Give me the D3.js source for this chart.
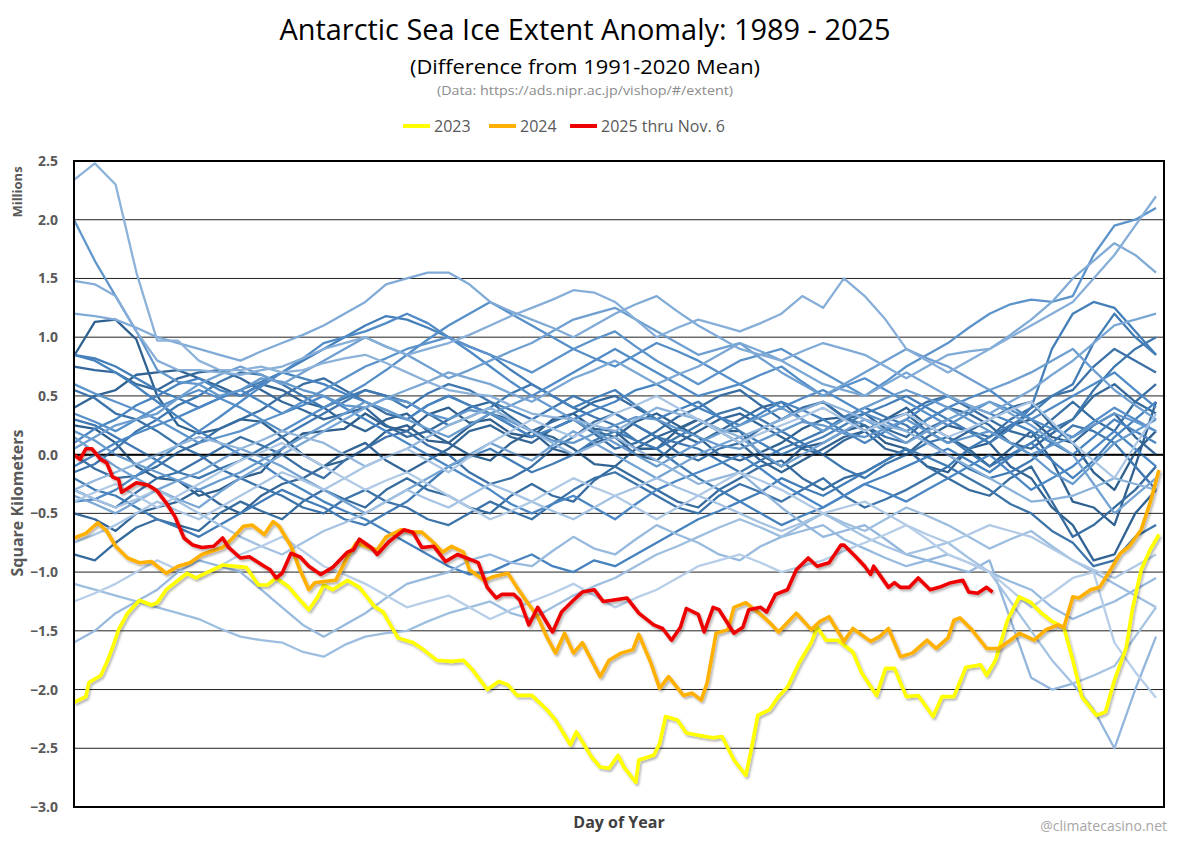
<!DOCTYPE html>
<html>
<head>
<meta charset="utf-8">
<script src="https://cdnjs.cloudflare.com/ajax/libs/d3/7.8.5/d3.min.js"></script>
<style>
  body { margin: 0; background: #fff; }
  text { font-family: "Open Sans", "Liberation Sans", sans-serif; }
</style>
</head>
<body>
<div id="chart"></div>
<script>
// weekly day-of-year grid for the 1989-2022 background years (1, 8, 15 ... 365)
var gridDays = d3.range(1, 366, 7);

// background years, anomaly in millions km2 read at gridDays
var pastYears = {
  1989: [0.25,0.22,0.1,-0.1,-0.2,-0.22,-0.35,-0.3,-0.2,-0.15,0.05,0.18,0.2,0.22,0.35,0.24,0.2,0.34,0.4,0.27,0.3,0.18,0.15,0.3,0.35,0.22,0.2,0.05,0.05,0.21,0.3,0.2,0.2,0.0,-0.1,0.06,0.1,0.2,0.25,0.1,0.05,-0.1,-0.15,0.05,0.1,0.25,0.3,0.15,0.1,-0.15,-0.3,0.02,0.2],
  1990: [0.84,1.13,1.15,0.98,0.5,0.25,0.18,0.22,0.3,0.28,0.15,0.0,-0.1,-0.05,0.05,0.2,0.25,0.12,0.1,0.24,0.35,0.3,0.2,0.05,0.0,0.1,0.15,0.28,0.35,0.25,0.15,0.0,-0.05,0.02,0.1,0.22,0.3,0.32,0.2,0.3,0.4,0.25,0.15,0.05,-0.1,0.05,0.2,-0.05,-0.4,-0.45,-0.6,-0.1,0.45],
  1991: [0.4,0.5,0.55,0.68,0.7,0.72,0.65,0.58,0.5,0.6,0.55,0.45,0.4,0.28,0.2,0.3,0.35,0.2,0.1,0.0,-0.05,0.1,0.2,0.15,0.05,-0.08,-0.1,0.05,0.15,0.22,0.3,0.2,0.1,-0.05,-0.15,-0.05,0.05,0.15,0.2,0.05,0.0,0.15,0.25,0.2,0.1,-0.1,-0.2,-0.45,-0.6,-0.9,-0.85,-0.5,-0.3],
  1992: [-0.5,-0.55,-0.65,-0.5,-0.45,-0.4,-0.3,-0.42,-0.5,-0.35,-0.25,-0.2,-0.1,0.02,0.1,-0.05,-0.15,-0.05,0.05,0.2,0.25,0.15,0.1,0.22,0.3,0.2,0.15,0.0,-0.05,0.1,0.2,0.3,0.35,0.25,0.15,0.05,0.0,0.12,0.2,0.3,0.35,0.2,0.1,0.2,0.3,0.4,0.45,0.25,0.1,0.25,0.35,0.15,0.0],
  1993: [0.75,0.72,0.7,0.6,0.55,0.65,0.7,0.72,0.65,0.55,0.45,0.38,0.3,0.35,0.4,0.25,0.15,0.2,0.3,0.4,0.45,0.32,0.2,0.28,0.35,0.45,0.5,0.4,0.3,0.18,0.1,0.2,0.3,0.4,0.45,0.3,0.2,0.3,0.35,0.22,0.15,0.3,0.4,0.35,0.25,0.1,0.05,0.18,0.3,0.5,0.6,0.45,0.35],
  1994: [-0.85,-0.9,-0.75,-0.62,-0.55,-0.6,-0.65,-0.5,-0.4,-0.48,-0.55,-0.4,-0.3,-0.38,-0.45,-0.3,-0.2,-0.3,-0.35,-0.45,-0.5,-0.35,-0.25,-0.35,-0.4,-0.22,-0.1,-0.2,-0.3,-0.4,-0.45,-0.3,-0.2,-0.1,-0.05,-0.2,-0.3,-0.2,-0.15,-0.05,0.05,-0.1,-0.2,-0.3,-0.35,-0.2,-0.1,-0.4,-0.7,-0.6,-0.45,-0.3,-0.1],
  1995: [0.0,-0.12,-0.2,-0.18,-0.1,0.02,0.1,0.22,0.3,0.38,0.5,0.6,0.65,0.55,0.45,0.35,0.3,0.42,0.5,0.42,0.35,0.25,0.15,0.22,0.3,0.18,0.05,0.1,0.2,0.32,0.4,0.5,0.55,0.42,0.3,0.38,0.45,0.32,0.2,0.28,0.35,0.45,0.5,0.4,0.3,0.2,0.15,0.3,0.45,0.3,0.2,0.45,0.6],
  1996: [-0.3,-0.38,-0.45,-0.32,-0.2,-0.15,-0.05,0.05,0.15,0.08,0.0,-0.12,-0.2,-0.05,0.05,0.15,0.2,0.08,0.0,-0.15,-0.25,-0.2,-0.1,0.05,0.15,0.28,0.35,0.25,0.15,0.02,-0.05,0.05,0.1,0.22,0.3,0.4,0.45,0.32,0.25,0.15,0.1,0.22,0.3,0.2,0.15,0.3,0.4,0.5,0.55,0.75,0.9,0.8,0.7],
  1997: [0.55,0.48,0.35,0.3,0.2,0.08,0.0,-0.12,-0.2,-0.28,-0.35,-0.45,-0.5,-0.38,-0.3,-0.4,-0.45,-0.55,-0.6,-0.5,-0.4,-0.48,-0.55,-0.42,-0.3,-0.2,-0.15,-0.25,-0.35,-0.45,-0.5,-0.35,-0.25,-0.32,-0.4,-0.3,-0.2,-0.35,-0.45,-0.38,-0.3,-0.2,-0.1,-0.2,-0.3,-0.42,-0.5,-0.65,-0.75,-0.95,-0.9,-0.7,-0.6],
  1998: [-0.15,-0.08,0.05,0.2,0.3,0.42,0.5,0.62,0.7,0.68,0.6,0.5,0.4,0.48,0.55,0.5,0.45,0.35,0.25,0.32,0.4,0.52,0.6,0.5,0.4,0.32,0.25,0.12,0.05,0.15,0.25,0.35,0.4,0.3,0.2,0.1,0.0,-0.12,-0.2,-0.08,0.0,0.1,0.15,0.02,-0.1,0.0,0.1,0.22,0.3,0.55,0.75,0.9,1.0],
  1999: [0.3,0.25,0.15,0.05,-0.05,-0.15,-0.2,-0.12,-0.05,0.05,0.15,0.25,0.35,0.45,0.55,0.5,0.4,0.52,0.6,0.55,0.45,0.38,0.3,0.4,0.5,0.42,0.35,0.25,0.15,0.1,0.05,-0.05,-0.15,-0.05,0.05,0.12,0.2,0.32,0.4,0.32,0.25,0.12,0.0,-0.12,-0.2,-0.15,-0.05,0.1,0.25,0.2,0.1,-0.1,-0.3],
  2000: [-0.2,-0.3,-0.35,-0.45,-0.55,-0.62,-0.7,-0.6,-0.5,-0.4,-0.3,-0.38,-0.45,-0.55,-0.6,-0.5,-0.4,-0.25,-0.1,-0.02,0.05,-0.05,-0.15,-0.08,0.0,0.12,0.2,0.12,0.05,-0.08,-0.2,-0.3,-0.4,-0.32,-0.2,-0.28,-0.35,-0.25,-0.15,-0.05,0.05,-0.02,-0.1,0.05,0.15,0.25,0.35,0.5,0.6,0.95,1.2,1.0,0.85],
  2001: [0.85,0.82,0.75,0.65,0.55,0.48,0.4,0.48,0.55,0.62,0.7,0.8,0.9,1.0,1.1,1.18,1.15,1.08,1.0,0.92,0.85,0.72,0.6,0.5,0.4,0.48,0.55,0.42,0.3,0.38,0.45,0.32,0.2,0.1,0.0,0.08,0.15,0.25,0.35,0.42,0.5,0.4,0.3,0.2,0.1,0.22,0.4,0.9,1.2,1.3,1.25,1.05,0.85],
  2002: [0.85,0.8,0.7,0.58,0.45,0.32,0.2,0.1,0.0,-0.08,-0.2,-0.3,-0.4,-0.48,-0.55,-0.65,-0.75,-0.85,-0.95,-1.02,-1.0,-0.92,-0.85,-0.95,-1.0,-0.9,-0.95,-0.85,-0.75,-0.65,-0.55,-0.48,-0.4,-0.5,-0.6,-0.52,-0.45,-0.35,-0.25,-0.18,-0.1,-0.02,0.05,-0.05,-0.15,-0.02,0.1,-0.05,-0.2,-0.05,0.15,0.3,0.45],
  2003: [0.1,0.22,0.3,0.42,0.5,0.6,0.65,0.55,0.5,0.6,0.7,0.65,0.6,0.52,0.45,0.38,0.3,0.42,0.5,0.42,0.35,0.25,0.15,0.22,0.3,0.38,0.45,0.55,0.6,0.5,0.4,0.32,0.25,0.35,0.45,0.38,0.3,0.2,0.1,0.2,0.3,0.42,0.5,0.42,0.35,0.28,0.2,0.1,0.0,0.15,0.3,0.2,0.1],
  2004: [-0.1,0.0,0.1,0.18,0.25,0.32,0.4,0.48,0.55,0.45,0.35,0.42,0.5,0.4,0.3,0.2,0.1,0.0,-0.1,-0.2,-0.3,-0.42,-0.5,-0.42,-0.35,-0.45,-0.55,-0.42,-0.3,-0.22,-0.15,-0.08,0.0,-0.12,-0.25,-0.35,-0.45,-0.35,-0.25,-0.32,-0.4,-0.3,-0.2,-0.1,0.0,-0.15,-0.3,-0.2,-0.1,0.05,0.2,0.05,-0.1],
  2005: [-0.4,-0.38,-0.3,-0.18,-0.05,0.08,0.2,0.32,0.45,0.58,0.7,0.82,0.95,1.0,1.05,1.12,1.2,1.12,1.0,0.88,0.75,0.62,0.5,0.6,0.7,0.8,0.9,0.8,0.7,0.6,0.5,0.55,0.6,0.5,0.4,0.48,0.55,0.45,0.35,0.28,0.2,0.3,0.4,0.48,0.55,0.42,0.3,0.4,0.5,0.6,0.7,0.55,0.4],
  2006: [0.35,0.28,0.2,0.3,0.4,0.48,0.55,0.48,0.4,0.3,0.2,0.3,0.4,0.5,0.6,0.72,0.85,0.98,1.1,1.2,1.3,1.2,1.1,1.0,0.9,0.82,0.75,0.85,0.95,0.88,0.8,0.7,0.6,0.68,0.75,0.62,0.5,0.58,0.65,0.55,0.45,0.35,0.25,0.35,0.45,0.38,0.3,0.22,0.15,0.28,0.4,0.3,0.2],
  2007: [0.6,0.52,0.45,0.38,0.3,0.2,0.1,0.15,0.2,0.28,0.35,0.45,0.55,0.65,0.75,0.82,0.9,0.95,1.0,0.92,0.85,0.78,0.7,0.8,0.9,0.98,1.05,0.92,0.8,0.7,0.6,0.7,0.8,0.85,0.9,0.8,0.7,0.6,0.5,0.62,0.75,0.85,0.95,1.08,1.2,1.28,1.32,1.3,1.35,1.7,1.95,2.0,2.1],
  2008: [2.0,1.65,1.35,1.05,0.72,0.62,0.6,0.5,0.55,0.65,0.62,0.55,0.5,0.42,0.4,0.48,0.45,0.35,0.3,0.38,0.35,0.28,0.2,0.12,0.1,0.18,0.25,0.32,0.3,0.22,0.15,0.08,0.05,0.12,0.2,0.28,0.25,0.18,0.15,0.22,0.3,0.2,0.1,0.15,0.2,0.1,0.0,0.08,0.15,0.25,0.35,0.28,0.2],
  2009: [0.2,0.12,0.0,-0.08,-0.15,-0.22,-0.3,-0.22,-0.15,-0.05,0.05,0.15,0.25,0.35,0.45,0.38,0.3,0.22,0.15,0.25,0.35,0.42,0.5,0.4,0.3,0.2,0.1,0.0,-0.1,0.0,0.1,0.18,0.25,0.32,0.4,0.3,0.2,0.3,0.4,0.48,0.55,0.48,0.4,0.3,0.2,0.1,0.0,-0.15,-0.25,-0.08,0.1,0.2,0.3],
  2010: [0.05,0.15,0.25,0.3,0.35,0.48,0.6,0.68,0.75,0.68,0.6,0.7,0.8,0.9,1.0,0.92,0.85,0.75,0.65,0.72,0.8,0.88,0.95,1.05,1.15,1.2,1.25,1.15,1.05,0.95,0.85,0.9,0.95,0.82,0.7,0.6,0.5,0.6,0.7,0.8,0.9,0.82,0.75,0.65,0.55,0.62,0.7,0.8,0.9,0.72,0.55,0.42,0.3],
  2011: [0.15,0.02,-0.1,-0.2,-0.3,-0.22,-0.15,-0.05,0.05,-0.02,-0.1,-0.2,-0.3,-0.4,-0.5,-0.4,-0.3,-0.2,-0.1,0.0,0.1,0.02,-0.05,0.08,0.2,0.1,0.0,-0.1,-0.2,-0.1,0.0,0.08,0.15,0.02,-0.1,0.0,0.1,0.2,0.3,0.2,0.1,0.2,0.3,0.38,0.45,0.35,0.25,0.12,0.0,-0.25,-0.5,-0.35,-0.2],
  2012: [-0.35,-0.42,-0.5,-0.4,-0.3,-0.38,-0.45,-0.32,-0.2,-0.1,0.0,0.1,0.2,0.3,0.4,0.48,0.55,0.62,0.7,0.65,0.6,0.52,0.45,0.55,0.65,0.72,0.8,0.7,0.6,0.68,0.75,0.85,0.95,0.88,0.8,0.7,0.6,0.55,0.5,0.6,0.7,0.6,0.5,0.42,0.35,0.45,0.55,0.68,0.8,0.95,1.1,1.15,1.2],
  2013: [1.2,1.18,1.15,1.08,1.0,0.95,0.9,0.85,0.8,0.88,0.95,1.02,1.1,1.2,1.3,1.45,1.5,1.55,1.55,1.45,1.3,1.22,1.15,1.08,1.0,1.1,1.2,1.28,1.35,1.22,1.1,1.0,0.9,0.85,0.8,0.88,0.95,0.9,0.85,0.75,0.65,0.75,0.85,0.88,0.9,1.02,1.15,1.3,1.5,1.65,1.8,1.7,1.55],
  2014: [1.48,1.45,1.35,1.05,0.8,0.72,0.72,0.7,0.68,0.72,0.75,0.82,0.9,0.95,1.0,0.92,0.85,0.9,0.95,1.02,1.1,1.18,1.25,1.32,1.4,1.38,1.3,1.15,1.0,1.08,1.15,1.1,1.05,1.12,1.2,1.35,1.25,1.5,1.35,1.15,0.9,0.8,0.7,0.8,0.9,1.0,1.1,1.2,1.3,1.5,1.7,1.95,2.2],
  2015: [2.34,2.48,2.3,1.55,0.97,0.97,0.8,0.72,0.72,0.75,0.7,0.72,0.78,0.82,0.85,0.78,0.7,0.62,0.55,0.52,0.5,0.42,0.35,0.32,0.3,0.25,0.2,0.3,0.4,0.35,0.3,0.22,0.15,0.22,0.3,0.38,0.45,0.38,0.3,0.25,0.2,0.1,0.0,-0.1,-0.2,-0.3,-0.4,-0.38,-0.35,-0.28,-0.2,-0.25,-0.3],
  2016: [-0.3,-0.22,-0.15,-0.08,0.0,0.08,0.15,0.1,0.05,0.12,0.2,0.15,0.1,0.0,-0.1,-0.02,0.05,0.15,0.25,0.32,0.4,0.3,0.2,0.1,0.0,0.08,0.15,0.05,-0.05,-0.15,-0.25,-0.2,-0.15,-0.3,-0.45,-0.58,-0.7,-0.65,-0.6,-0.72,-0.85,-0.9,-0.95,-1.0,-0.9,-1.4,-1.9,-2.0,-1.95,-2.17,-2.5,-2.0,-1.55],
  2017: [-1.6,-1.5,-1.35,-1.25,-1.15,-1.0,-0.9,-0.95,-1.0,-1.15,-1.3,-1.45,-1.55,-1.45,-1.35,-1.22,-1.1,-1.05,-1.0,-0.9,-0.85,-0.92,-0.95,-0.82,-0.7,-0.8,-0.85,-0.72,-0.6,-0.68,-0.75,-0.85,-0.9,-0.78,-0.7,-0.65,-0.6,-0.72,-0.8,-0.88,-0.95,-0.9,-0.85,-0.92,-1.0,-1.08,-1.15,-1.3,-1.4,-1.32,-1.25,-1.15,-1.05],
  2018: [-1.1,-1.15,-1.2,-1.25,-1.3,-1.35,-1.4,-1.48,-1.55,-1.58,-1.6,-1.68,-1.72,-1.62,-1.55,-1.52,-1.5,-1.42,-1.35,-1.3,-1.25,-1.35,-1.4,-1.3,-1.2,-1.12,-1.05,-0.95,-0.85,-0.78,-0.7,-0.62,-0.55,-0.62,-0.7,-0.6,-0.5,-0.58,-0.65,-0.55,-0.45,-0.52,-0.6,-0.7,-0.8,-0.72,-0.65,-0.78,-0.9,-1.0,-1.1,-1.2,-1.3],
  2019: [-0.3,-0.38,-0.45,-0.38,-0.3,-0.4,-0.5,-0.6,-0.7,-0.78,-0.85,-0.75,-0.65,-0.58,-0.5,-0.4,-0.3,-0.38,-0.45,-0.35,-0.25,-0.32,-0.4,-0.48,-0.55,-0.45,-0.35,-0.28,-0.2,-0.28,-0.35,-0.42,-0.5,-0.58,-0.65,-0.58,-0.5,-0.6,-0.7,-0.78,-0.85,-0.8,-0.75,-0.88,-1.0,-1.25,-1.5,-1.75,-1.95,-1.88,-1.8,-1.55,-1.3],
  2020: [-0.75,-0.68,-0.6,-0.5,-0.4,-0.48,-0.55,-0.45,-0.35,-0.25,-0.15,-0.22,-0.3,-0.2,-0.1,-0.02,0.05,-0.05,-0.15,-0.02,0.1,0.2,0.3,0.22,0.15,0.25,0.35,0.42,0.5,0.4,0.3,0.2,0.1,0.18,0.25,0.32,0.4,0.3,0.2,0.28,0.35,0.25,0.15,0.22,0.3,0.38,0.45,0.28,0.1,-0.05,-0.2,0.08,0.35],
  2021: [-0.4,-0.32,-0.25,-0.35,-0.45,-0.35,-0.25,-0.15,-0.05,0.02,0.1,0.0,-0.1,-0.2,-0.3,-0.22,-0.15,-0.25,-0.35,-0.45,-0.55,-0.48,-0.4,-0.3,-0.2,-0.28,-0.35,-0.45,-0.55,-0.45,-0.35,-0.25,-0.15,-0.22,-0.3,-0.4,-0.5,-0.45,-0.4,-0.5,-0.6,-0.68,-0.75,-0.68,-0.6,-0.65,-0.7,-0.8,-0.9,-0.98,-1.05,-0.95,-0.85],
  2022: [-1.25,-1.18,-1.1,-1.0,-0.9,-0.98,-1.05,-0.95,-0.85,-0.78,-0.7,-0.82,-0.95,-1.02,-1.1,-1.2,-1.3,-1.25,-1.2,-1.3,-1.4,-1.32,-1.25,-1.18,-1.1,-1.2,-1.3,-1.22,-1.15,-1.05,-0.95,-0.9,-0.85,-0.92,-1.0,-0.95,-0.9,-0.82,-0.75,-0.68,-0.6,-0.72,-0.85,-0.92,-1.0,-1.15,-1.3,-1.18,-1.05,-1.0,-1.6,-1.85,-2.07]
};

// highlighted years: [day of year, anomaly]
var y2023 = [[1,-2.11],[5,-2.06],[6,-1.94],[10,-1.88],[12,-1.77],[14,-1.64],[16,-1.49],[19,-1.35],[23,-1.24],[27,-1.28],[29,-1.26],[32,-1.15],[39,-1.01],[42,-1.05],[46,-1.00],[51,-0.94],[59,-0.96],[63,-1.11],[66,-1.11],[69,-1.05],[73,-1.12],[76,-1.21],[80,-1.32],[83,-1.21],[85,-1.11],[88,-1.15],[93,-1.07],[97,-1.13],[102,-1.29],[105,-1.34],[107,-1.43],[110,-1.56],[115,-1.60],[118,-1.65],[123,-1.75],[128,-1.76],[132,-1.75],[135,-1.83],[140,-2.00],[144,-1.93],[147,-1.96],[150,-2.05],[155,-2.05],[160,-2.17],[163,-2.26],[168,-2.47],[170,-2.36],[175,-2.57],[178,-2.66],[181,-2.67],[184,-2.56],[186,-2.66],[190,-2.79],[191,-2.60],[196,-2.56],[198,-2.46],[200,-2.23],[204,-2.26],[207,-2.37],[211,-2.39],[216,-2.41],[219,-2.40],[223,-2.60],[227,-2.73],[229,-2.49],[231,-2.22],[235,-2.17],[238,-2.06],[241,-1.98],[245,-1.77],[249,-1.60],[251,-1.47],[254,-1.58],[258,-1.58],[263,-1.68],[266,-1.86],[271,-2.05],[274,-1.82],[277,-1.82],[281,-2.06],[285,-2.05],[290,-2.23],[293,-2.06],[297,-2.06],[301,-1.81],[306,-1.79],[308,-1.88],[311,-1.75],[315,-1.41],[319,-1.21],[323,-1.26],[326,-1.34],[330,-1.42],[334,-1.47],[337,-1.75],[340,-2.06],[345,-2.22],[348,-2.19],[351,-1.92],[355,-1.64],[357,-1.32],[360,-0.98],[363,-0.81],[366,-0.68]];

var y2024 = [[1,-0.71],[5,-0.67],[9,-0.58],[12,-0.65],[15,-0.78],[19,-0.88],[23,-0.92],[27,-0.91],[32,-1.01],[36,-0.95],[40,-0.92],[44,-0.85],[51,-0.79],[54,-0.72],[58,-0.61],[61,-0.60],[65,-0.68],[68,-0.57],[70,-0.61],[74,-0.78],[77,-0.98],[80,-1.15],[82,-1.09],[85,-1.08],[89,-1.07],[93,-0.87],[96,-0.75],[100,-0.79],[103,-0.81],[106,-0.70],[111,-0.64],[115,-0.66],[118,-0.66],[122,-0.75],[125,-0.83],[128,-0.78],[132,-0.83],[134,-0.98],[139,-1.07],[142,-1.04],[147,-1.01],[150,-1.13],[153,-1.24],[157,-1.38],[160,-1.55],[163,-1.69],[166,-1.52],[169,-1.69],[172,-1.60],[178,-1.89],[181,-1.75],[185,-1.69],[189,-1.66],[191,-1.53],[195,-1.77],[198,-1.99],[201,-1.89],[206,-2.05],[209,-2.03],[212,-2.09],[214,-1.94],[217,-1.52],[221,-1.49],[223,-1.30],[227,-1.26],[232,-1.36],[235,-1.43],[238,-1.51],[244,-1.35],[249,-1.49],[252,-1.42],[255,-1.38],[260,-1.59],[263,-1.48],[269,-1.59],[272,-1.55],[275,-1.48],[279,-1.72],[283,-1.69],[288,-1.58],[291,-1.65],[295,-1.56],[297,-1.41],[299,-1.39],[303,-1.49],[308,-1.65],[312,-1.65],[316,-1.58],[319,-1.52],[324,-1.58],[328,-1.49],[332,-1.45],[334,-1.47],[337,-1.21],[339,-1.22],[343,-1.15],[346,-1.13],[349,-1.01],[353,-0.84],[356,-0.78],[360,-0.64],[363,-0.41],[366,-0.13]];

var y2025 = [[1,0.0],[3,-0.04],[5,0.05],[7,0.05],[10,-0.04],[12,-0.07],[14,-0.19],[16,-0.21],[17,-0.32],[22,-0.24],[26,-0.26],[29,-0.31],[32,-0.41],[35,-0.53],[38,-0.71],[41,-0.77],[44,-0.79],[48,-0.78],[51,-0.71],[53,-0.79],[57,-0.88],[60,-0.87],[65,-0.95],[67,-0.98],[69,-1.05],[71,-1.01],[74,-0.84],[77,-0.87],[80,-0.95],[84,-1.02],[88,-0.96],[93,-0.83],[95,-0.81],[97,-0.72],[101,-0.79],[103,-0.85],[107,-0.74],[112,-0.64],[115,-0.66],[118,-0.79],[122,-0.78],[126,-0.91],[130,-0.85],[134,-0.89],[137,-0.92],[140,-1.13],[143,-1.22],[145,-1.19],[149,-1.19],[151,-1.24],[154,-1.45],[157,-1.30],[161,-1.47],[162,-1.51],[165,-1.34],[169,-1.24],[172,-1.17],[176,-1.15],[179,-1.25],[182,-1.24],[187,-1.22],[191,-1.35],[196,-1.45],[199,-1.48],[202,-1.58],[205,-1.47],[207,-1.31],[211,-1.36],[213,-1.51],[216,-1.30],[218,-1.32],[223,-1.52],[226,-1.47],[228,-1.32],[232,-1.30],[234,-1.34],[237,-1.19],[241,-1.15],[244,-0.98],[248,-0.88],[251,-0.95],[255,-0.92],[259,-0.77],[260,-0.77],[264,-0.87],[267,-0.95],[269,-1.02],[270,-0.95],[275,-1.13],[277,-1.09],[279,-1.13],[282,-1.13],[285,-1.05],[289,-1.15],[292,-1.13],[296,-1.09],[300,-1.07],[302,-1.17],[305,-1.18],[308,-1.13],[310,-1.17]];

var yTicks = [2.5, 2.0, 1.5, 1.0, 0.5, 0.0, -0.5, -1.0, -1.5, -2.0, -2.5, -3.0];

var highlights = [
  { name: "2023", color: "#ffff00", data: y2023 },
  { name: "2024", color: "#ffb000", data: y2024 },
  { name: "2025 thru Nov. 6", color: "#ee0000", data: y2025 }
];

var width = 1200, height = 847;
var plotLeft = 74, plotRight = 1164, plotTop = 161, plotBottom = 807;

var svg = d3.select('#chart').append('svg')
  .attr('width', width)
  .attr('height', height);

var defs = svg.append('defs');
var shadow = defs.append('filter').attr('id', 'shadow')
  .attr('x', '-5%').attr('y', '-5%').attr('width', '110%').attr('height', '120%');
shadow.append('feDropShadow')
  .attr('dx', 1.5).attr('dy', 2).attr('stdDeviation', 1.2)
  .attr('flood-color', '#000').attr('flood-opacity', 0.3);

var x = d3.scaleLinear().domain([1, 366]).range([plotLeft, 1159]);
var y = d3.scaleLinear().domain([-3, 2.5]).range([plotBottom, plotTop]);

// grid lines
svg.append('g').selectAll('line')
  .data(yTicks)
  .enter().append('line')
  .attr('x1', plotLeft).attr('x2', plotRight)
  .attr('y1', function (d) { return y(d); })
  .attr('y2', function (d) { return y(d); })
  .attr('stroke', function (d) { return d === 0 ? '#000' : '#222'; })
  .attr('stroke-width', function (d) { return d === 0 ? 2 : 1; });

// y axis labels
var yAxis = d3.axisLeft(y).tickValues(yTicks).tickSize(0).tickPadding(16)
  .tickFormat(d3.format('.1f'));
var yg = svg.append('g').attr('transform', 'translate(' + plotLeft + ',0)').call(yAxis);
yg.select('.domain').remove();
yg.selectAll('text')
  .attr('fill', '#595959')
  .style('font-size', '14px')
  .style('font-weight', 'bold')
  .style('font-family', '"Open Sans", sans-serif');

// background years
var years = Object.keys(pastYears).map(Number);
var blue = d3.scaleLinear().domain([1989, 2004, 2022])
  .range(['#2d5e8c', '#4a87c4', '#b6cee8']);

var line = d3.line()
  .x(function (d) { return x(d[0]); })
  .y(function (d) { return y(d[1]); });

svg.append('g').selectAll('path')
  .data(years)
  .enter().append('path')
  .attr('d', function (yr) {
    var pts = pastYears[yr].map(function (v, i) { return [gridDays[i], v]; })
      .filter(function (p) { return p[0] !== undefined; });
    return line(pts);
  })
  .attr('fill', 'none')
  .attr('stroke', function (yr) { return blue(yr); })
  .attr('stroke-width', 2.3)
  .attr('stroke-linejoin', 'round');

// zero line again on top, like the original
svg.append('line')
  .attr('x1', plotLeft).attr('x2', plotRight)
  .attr('y1', y(0)).attr('y2', y(0))
  .attr('stroke', '#000').attr('stroke-width', 1.5).attr('opacity', 0.6);

// highlighted years
svg.append('g').selectAll('path')
  .data(highlights)
  .enter().append('path')
  .attr('d', function (d) { return line(d.data); })
  .attr('fill', 'none')
  .attr('stroke', function (d) { return d.color; })
  .attr('stroke-width', 3.6)
  .attr('stroke-linejoin', 'round')
  .attr('filter', 'url(#shadow)');

// plot frame
svg.append('rect')
  .attr('x', plotLeft).attr('y', plotTop)
  .attr('width', plotRight - plotLeft).attr('height', plotBottom - plotTop)
  .attr('fill', 'none').attr('stroke', '#000').attr('stroke-width', 2);

// titles
svg.append('text')
  .attr('x', 585).attr('y', 40)
  .attr('text-anchor', 'middle')
  .attr('textLength', 611).attr('lengthAdjust', 'spacingAndGlyphs')
  .style('font-size', '29px').attr('fill', '#000')
  .text('Antarctic Sea Ice Extent Anomaly: 1989 - 2025');

svg.append('text')
  .attr('x', 585).attr('y', 74)
  .attr('text-anchor', 'middle')
  .attr('textLength', 350).attr('lengthAdjust', 'spacingAndGlyphs')
  .style('font-size', '20px').attr('fill', '#000')
  .text('(Difference from 1991-2020 Mean)');

svg.append('text')
  .attr('x', 585).attr('y', 95)
  .attr('text-anchor', 'middle')
  .attr('textLength', 296).attr('lengthAdjust', 'spacingAndGlyphs')
  .style('font-size', '13px').attr('fill', '#8c8c8c')
  .text('(Data: https://ads.nipr.ac.jp/vishop/#/extent)');

// legend
var legendX = [403, 489, 570];
var legend = svg.append('g').selectAll('g')
  .data(highlights)
  .enter().append('g')
  .attr('transform', function (d, i) { return 'translate(' + legendX[i] + ',126)'; });
legend.append('line')
  .attr('x1', 0).attr('x2', 27).attr('y1', 0).attr('y2', 0)
  .attr('stroke', function (d) { return d.color; })
  .attr('stroke-width', 4);
legend.append('text')
  .attr('x', 31).attr('y', 6)
  .style('font-size', '16px').attr('fill', '#595959')
  .text(function (d) { return d.name; });

// axis titles
svg.append('text')
  .attr('transform', 'translate(22,192) rotate(-90)')
  .attr('text-anchor', 'middle')
  .style('font-size', '13px').style('font-weight', 'bold').attr('fill', '#595959')
  .text('Millions');

svg.append('text')
  .attr('transform', 'translate(23,503) rotate(-90)')
  .attr('text-anchor', 'middle')
  .style('font-size', '16px').style('font-weight', 'bold').attr('fill', '#595959')
  .text('Square Kilometers');

svg.append('text')
  .attr('x', 619).attr('y', 828)
  .attr('text-anchor', 'middle')
  .style('font-size', '16px').style('font-weight', 'bold').attr('fill', '#404040')
  .text('Day of Year');

svg.append('text')
  .attr('x', 1167).attr('y', 831)
  .attr('text-anchor', 'end')
  .style('font-size', '14px').attr('fill', '#a6a6a6')
  .text('@climatecasino.net');
</script>
</body>
</html>
